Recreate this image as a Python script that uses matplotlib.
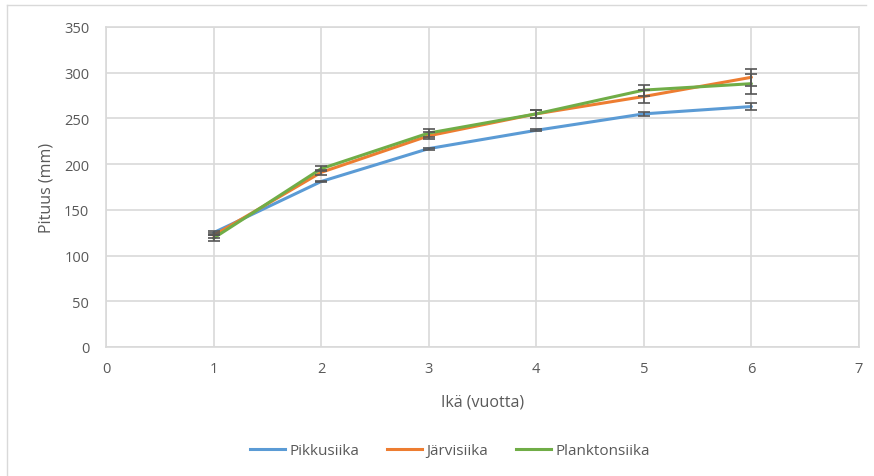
import numpy as np
import matplotlib.pyplot as plt
from matplotlib.lines import Line2D

# ages (years)
ages = [1, 2, 3, 4, 5, 6]

# mean length (mm) per species
pikkusiika = [125, 181, 217, 237, 255, 263]
jarvisiika = [122, 191, 231, 255, 274, 295]
planktonsiika = [119, 195, 234, 255, 281, 288]

# error bar half-widths
pikkusiika_err = [2, 1, 1, 1, 2, 4]
jarvisiika_err = [3, 3, 4, 4, 7, 9]
planktonsiika_err = [3, 3, 4, 4, 6, 11]

labels = ['Pikkusiika', 'Järvisiika', 'Planktonsiika']
colors = ['#5B9BD5', '#ED7D31', '#70AD47']

plt.rcParams['font.family'] = ['Open Sans', 'DejaVu Sans']
txt = '#595959'

fig = plt.figure(figsize=(8.74, 4.77), dpi=100)
ax = fig.add_axes([106 / 874, 1 - 348 / 477, (859 - 106) / 874, (348 - 28) / 477])

series = [pikkusiika, jarvisiika, planktonsiika]
errs = [pikkusiika_err, jarvisiika_err, planktonsiika_err]
for vals, err, c, lab in zip(series, errs, colors, labels):
    ax.plot(ages, vals, color=c, lw=2.2, label=lab, zorder=3, solid_capstyle='round')
    ax.errorbar(ages, vals, yerr=err, fmt='none', ecolor='#555555', elinewidth=1.2,
                capsize=4, capthick=1.2, zorder=4)

ax.set_xlim(0, 7)
ax.set_ylim(0, 350)
ax.set_xticks(range(0, 8))
ax.set_yticks(range(0, 351, 50))
ax.grid(True, color='#D9D9D9', lw=1.2)
ax.set_axisbelow(True)
for s in ax.spines.values():
    s.set_color('#D9D9D9')
    s.set_linewidth(1.2)
ax.tick_params(length=0, labelsize=10.5, colors=txt)
ax.tick_params(axis='y', pad=12)
ax.tick_params(axis='x', pad=10)
ax.set_xlabel('Ikä (vuotta)', fontsize=11.5, color=txt, labelpad=13)
ax.set_ylabel('Pituus (mm)', fontsize=11.5, color=txt, labelpad=7)

handles = [Line2D([0], [0], color=c, lw=2.2) for c in colors]
fig.legend(handles, labels, loc='center', bbox_to_anchor=(450 / 874, 1 - 452 / 477),
           ncol=3, frameon=False, fontsize=11, labelcolor=txt, handlelength=2.3,
           handletextpad=0.3, columnspacing=1.8)

# chart area border (top and left visible)
fig.add_artist(Line2D([7 / 874, 866 / 874], [1 - 6 / 477, 1 - 6 / 477], color='#D9D9D9', lw=1))
fig.add_artist(Line2D([7 / 874, 7 / 874], [1 - 6 / 477, 0], color='#D9D9D9', lw=1))

fig.savefig('out.png', dpi=100)
